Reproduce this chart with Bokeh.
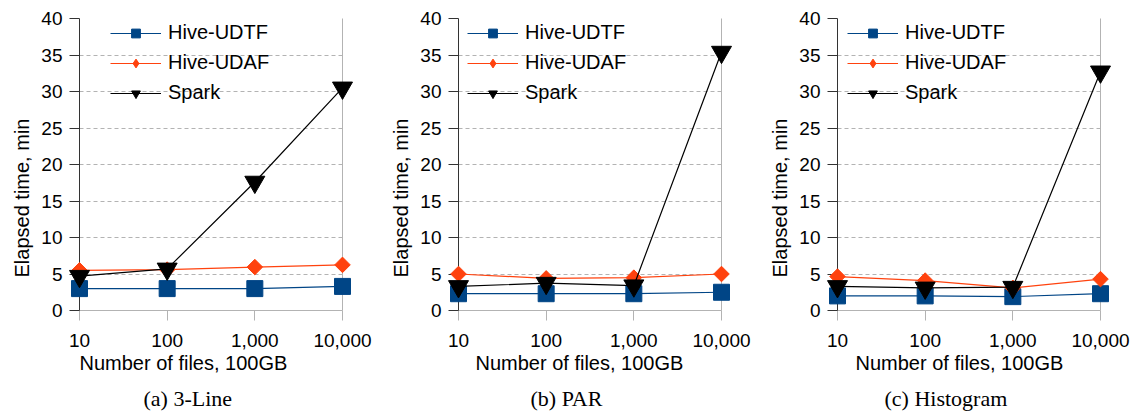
from bokeh.plotting import figure
from bokeh.layouts import row
from bokeh.models import (Range1d, FixedTicker, NumeralTickFormatter, Title,
                          LinearAxis, Legend)
from bokeh.embed import file_html
from bokeh.resources import INLINE
import numpy as np

# ---------------- data ----------------
files = [10, 100, 1000, 10000]
y_ticks = [0, 5, 10, 15, 20, 25, 30, 35, 40]
series_names = ["Hive-UDTF", "Hive-UDAF", "Spark"]

udtf_a = [3.0, 3.0, 3.0, 3.3]
udaf_a = [5.5, 5.6, 5.95, 6.25]
spark_a = [4.7, 5.7, 17.6, 30.5]

udtf_b = [2.3, 2.3, 2.3, 2.5]
udaf_b = [5.0, 4.4, 4.5, 5.0]
spark_b = [3.3, 3.75, 3.4, 35.4]

udtf_c = [2.0, 2.0, 1.9, 2.3]
udaf_c = [4.65, 4.1, 3.1, 4.3]
spark_c = [3.3, 3.1, 3.2, 32.7]

captions = ["(a) 3-Line", "(b) PAR", "(c) Histogram"]
x_title = "Number of files, 100GB"
y_title = "Elapsed time, min"

# ---------------- style ----------------
C_UDTF = "#004586"
C_UDAF = "#ff420e"
C_SPARK = "#000000"
GRID = "#b3b3b3"
AXIS_DARK = "#333333"
SANS = "Liberation Sans"
SERIF = "Liberation Serif"


def make_panel(udtf, udaf, spark, caption, legend_x, xtitle_off, cap_off):
    p = figure(frame_width=263, frame_height=292, x_axis_type="log",
               x_range=Range1d(10, 10000), y_range=Range1d(0, 40),
               output_backend="svg", toolbar_location=None,
               min_border_left=79, min_border_right=37,
               min_border_top=18, min_border_bottom=109)
    p.outline_line_color = None
    p.background_fill_color = "white"
    p.border_fill_color = "white"

    # x axis
    xa = p.xaxis[0]
    xa.ticker = FixedTicker(ticks=files)
    xa.formatter = NumeralTickFormatter(format="0,0")
    xa.axis_line_color = GRID
    xa.major_tick_line_color = GRID
    xa.major_tick_out = 10
    xa.major_tick_in = 0
    xa.minor_tick_line_color = None
    xa.major_label_standoff = 13
    xa.major_label_text_font = SANS
    xa.major_label_text_font_size = "19px"
    xa.major_label_text_color = "#000000"

    # y axis
    ya = p.yaxis[0]
    ya.ticker = FixedTicker(ticks=y_ticks)
    ya.axis_line_color = AXIS_DARK
    ya.major_tick_line_color = AXIS_DARK
    ya.major_tick_out = 10
    ya.major_tick_in = 0
    ya.minor_tick_line_color = None
    ya.major_label_standoff = 7
    ya.major_label_text_font = SANS
    ya.major_label_text_font_size = "19px"
    ya.major_label_text_color = "#000000"

    # right border
    ra = LinearAxis(ticker=FixedTicker(ticks=[]), axis_line_color=GRID,
                    major_tick_line_color=None, minor_tick_line_color=None,
                    major_label_text_font_size="0px")
    p.add_layout(ra, "right")

    p.xgrid.grid_line_color = None
    p.ygrid.ticker = FixedTicker(ticks=y_ticks)
    p.ygrid.grid_line_color = GRID
    p.ygrid.grid_line_dash = "4 3"

    # smaller key symbols (used by the legend, hidden beneath the big markers)
    k1 = p.scatter(files, udtf, marker="square", size=10,
                   fill_color=C_UDTF, line_color=C_UDTF)
    k2 = p.scatter(files, udaf, marker="diamond", size=14,
                   fill_color=C_UDAF, line_color=C_UDAF)
    k3 = p.scatter(files, spark, marker="inverted_triangle", size=13,
                   fill_color=C_SPARK, line_color=C_SPARK)

    l1 = p.line(files, udtf, line_color=C_UDTF, line_width=1.2, level="overlay")
    p.scatter(files, udtf, marker="square", size=16, fill_color=C_UDTF,
              line_color=C_UDTF, level="overlay")
    l2 = p.line(files, udaf, line_color=C_UDAF, line_width=1.2, level="overlay")
    p.scatter(files, udaf, marker="square", angle=np.pi / 4, size=11,
              fill_color=C_UDAF, line_color=C_UDAF, level="overlay")
    l3 = p.line(files, spark, line_color=C_SPARK, line_width=1.2, level="overlay")
    p.scatter(files, spark, marker="inverted_triangle", size=20,
              fill_color=C_SPARK, line_color=C_SPARK, level="overlay")

    legend = Legend(items=[(series_names[0], [l1, k1]),
                           (series_names[1], [l2, k2]),
                           (series_names[2], [l3, k3])],
                    location=(legend_x, 206), padding=0, margin=0,
                    spacing=7, glyph_width=51, glyph_height=22,
                    label_height=22, label_standoff=7,
                    label_text_font=SANS, label_text_font_size="20px",
                    label_text_color="#000000",
                    border_line_color=None, background_fill_alpha=0)
    p.add_layout(legend)

    p.add_layout(Title(text=y_title, align="left", offset=33, standoff=12,
                       text_font=SANS, text_font_size="20px",
                       text_font_style="normal", text_color="#000000"), "left")
    p.add_layout(Title(text=x_title, align="left", offset=xtitle_off,
                       standoff=0, text_font=SANS, text_font_size="20px",
                       text_font_style="normal", text_color="#000000"), "below")
    p.add_layout(Title(text=caption, align="left", offset=cap_off,
                       standoff=21, text_font=SERIF, text_font_size="22px",
                       text_font_style="normal", text_color="#000000"), "below")
    return p


pa = make_panel(udtf_a, udaf_a, spark_a, captions[0], 31, 0, 64)
pb = make_panel(udtf_b, udaf_b, spark_b, captions[1], 9, 17, 72)
pc = make_panel(udtf_c, udaf_c, spark_c, captions[2], 10, 18, 47)

layout = row(pa, pb, pc, spacing=0)
open("out.html", "w").write(file_html(layout, INLINE))
